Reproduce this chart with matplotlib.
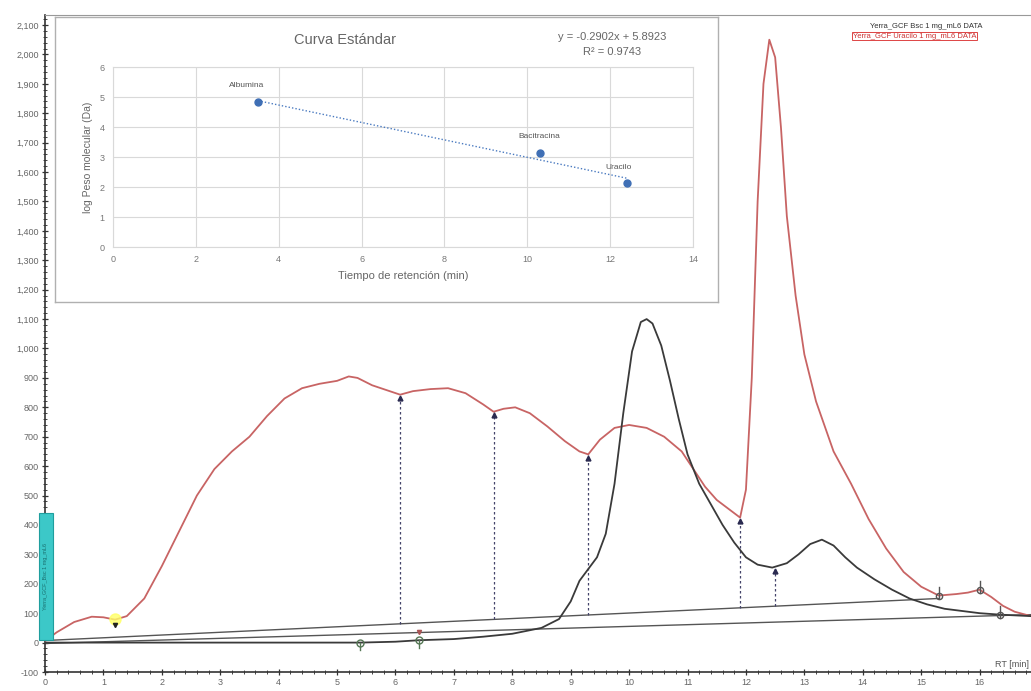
import matplotlib
matplotlib.use("Agg")
import matplotlib.pyplot as plt
import numpy as np
from matplotlib.patches import Rectangle
from matplotlib.ticker import MultipleLocator, FuncFormatter

plt.rcParams['font.family'] = ['Liberation Sans', 'DejaVu Sans']

# ---------------- data ----------------
red_x = [0.0, 0.2, 0.5, 0.8, 1.0, 1.2, 1.4, 1.7, 2.0, 2.3, 2.6, 2.9, 3.2, 3.5, 3.8,
         4.1, 4.4, 4.7, 5.0, 5.2, 5.35, 5.6, 5.9, 6.08, 6.3, 6.6, 6.9, 7.2, 7.5, 7.68,
         7.85, 8.05, 8.3, 8.6, 8.9, 9.15, 9.3, 9.5, 9.75, 10.0, 10.3, 10.6, 10.9, 11.1,
         11.3, 11.5, 11.7, 11.9, 12.0, 12.1, 12.2, 12.3, 12.4, 12.5, 12.6, 12.7, 12.85,
         13.0, 13.2, 13.5, 13.8, 14.1, 14.4, 14.7, 15.0, 15.3, 15.6, 15.8, 16.0, 16.2,
         16.4, 16.6, 16.88]
red_y = [5, 35, 70, 88, 86, 78, 90, 150, 260, 380, 500, 590, 650, 700, 770,
         830, 865, 880, 890, 905, 900, 875, 855, 843, 855, 862, 865, 848, 810, 785,
         795, 800, 780, 735, 685, 650, 640, 690, 730, 740, 730, 700, 650, 590,
         530, 485, 455, 425, 520, 900, 1500, 1900, 2050, 1990, 1750, 1450, 1180,
         980, 820, 650, 540, 420, 320, 240, 190, 160, 165, 170, 180, 155,
         125, 105, 90]

black_x = [0.0, 1.0, 2.0, 3.0, 4.0, 5.0, 5.4, 6.0, 6.4, 7.0, 7.5, 8.0, 8.5, 8.8, 9.0,
           9.15, 9.3, 9.45, 9.6, 9.75, 9.9, 10.05, 10.2, 10.3, 10.4, 10.55, 10.7, 10.85,
           11.0, 11.2, 11.4, 11.6, 11.8, 12.0, 12.2, 12.45, 12.7, 12.9, 13.1, 13.3, 13.5,
           13.7, 13.9, 14.2, 14.5, 14.8, 15.1, 15.4, 15.8, 16.0, 16.35, 16.88]
black_y = [0, 0, 0, 0, 0, 0, 0, 3, 8, 12, 20, 30, 50, 80, 140,
           210, 250, 290, 370, 540, 780, 990, 1090, 1100, 1085, 1010, 890, 760,
           640, 540, 470, 400, 340, 290, 265, 255, 270, 300, 335, 350, 330,
           290, 255, 215, 180, 150, 130, 115, 105, 100, 95, 90]

# baselines (start / end points)
base_upper_x = [0.0, 15.3]
base_upper_y = [7, 150]
base_lower_x = [0.0, 16.35]
base_lower_y = [-3, 92]

# dropline positions (RT) and their top values
drop_x = [6.08, 7.68, 9.3, 11.9, 12.5]
drop_top = [843, 785, 640, 425, 255]

# standard curve inset
std_names = ["Albumina", "Bacitracina", "Uracilo"]
std_rt = [3.5, 10.3, 12.4]
std_logmw = [4.84, 3.14, 2.12]
slope, intercept, r2 = -0.2902, 5.8923, 0.9743

x_ticks = list(range(0, 17))
y_ticks = list(range(-100, 2101, 100))

# ---------------- figure ----------------
W, H = 1031, 691
fig = plt.figure(figsize=(W / 100, H / 100), dpi=100)
ax = fig.add_axes([45 / W, 19 / H, (W - 45) / W, (672 - 15) / H])

ax.set_xlim(0, 16.88)
ax.set_ylim(-100, 2134)

ax.plot(base_upper_x, base_upper_y, color='#555555', lw=1.0, zorder=2)
ax.plot(base_lower_x + [16.88], base_lower_y + [95], color='#555555', lw=1.0, zorder=2)
ax.plot(red_x, red_y, color='#c86464', lw=1.3, zorder=3)
ax.plot(black_x, black_y, color='#3a3a3a', lw=1.3, zorder=4)

for xd, yt in zip(drop_x, drop_top):
    yb = np.interp(xd, base_upper_x, base_upper_y)
    ax.plot([xd, xd], [yb, yt], color='#44446a', lw=0.9, ls=(0, (2, 2)), zorder=2)
    ax.plot([xd], [yt - 12], marker='^', ms=3.5, color='#2a2a50', zorder=5)

# small peak markers
ax.plot([1.2], [80], 'o', ms=8, color='#ffff66', alpha=0.8, zorder=4)
ax.plot([1.2], [60], marker='v', ms=3, color='#222222', zorder=5)
for xm, ym in [(5.4, 0), (6.4, 8)]:
    ax.plot([xm], [ym], 'o', ms=5, mfc='none', mec='#557755', mew=1, zorder=5)
    ax.plot([xm, xm], [ym - 25, ym], color='#557755', lw=1, zorder=5)
ax.plot([6.4], [35], marker='v', ms=3, color='#aa5555', zorder=5)
for xm, ym in [(15.3, 160), (16.0, 180), (16.35, 95)]:
    ax.plot([xm], [ym], 'o', ms=4.5, mfc='none', mec='#555555', mew=1, zorder=5)
    ax.plot([xm, xm], [ym - 10, ym + 30], color='#555555', lw=1, zorder=5)

# cyan marker bar at left
ax.add_patch(Rectangle((-0.11, 10), 0.25, 432, facecolor='#3cc8c8', edgecolor='#1f9e9e',
                       lw=0.8, clip_on=False, zorder=6))
ax.text(0.015, 225, "Yerra_GCF_Bsc 1 mg_mL6", rotation=90, fontsize=4, color='#1a6f6f',
        ha='center', va='center', clip_on=False, zorder=7)

# axes styling
ax.set_xticks(x_ticks)
ax.set_yticks(y_ticks)
ax.yaxis.set_major_formatter(FuncFormatter(lambda v, p: f"{int(v):,}"))
ax.xaxis.set_minor_locator(MultipleLocator(0.2))
ax.yaxis.set_minor_locator(MultipleLocator(20))
ax.tick_params(axis='both', which='major', direction='inout', length=5, width=0.9,
               labelsize=6.5, labelcolor='#666666', color='#333333', pad=2)
ax.tick_params(axis='both', which='minor', direction='inout', length=3, width=0.7,
               color='#444444')
for s in ['left', 'bottom']:
    ax.spines[s].set_color('#333333')
    ax.spines[s].set_linewidth(1.2)
ax.spines['top'].set_color('#999999')
ax.spines['top'].set_linewidth(0.8)
ax.spines['right'].set_visible(False)

ax.text(16.27, -75, "RT [min]", fontsize=6.5, color='#555555', ha='left', va='center',
        clip_on=False)

fig.text(870 / W, 1 - 27 / H, "Yerra_GCF Bsc 1 mg_mL6 DATA", fontsize=5.5,
         color='#333333', ha='left', va='center')
fig.text(853 / W, 1 - 36 / H, "Yerra_GCF Uracilo 1 mg_mL6 DATA", fontsize=5.5,
         color='#cc3333', ha='left', va='center',
         bbox=dict(boxstyle='square,pad=0.1', fc='none', ec='#dd4444', lw=0.7))

# ---------------- inset box ----------------
box = fig.add_axes([55 / W, 1 - 302 / H, 663 / W, 285 / H], zorder=10)
box.set_xticks([])
box.set_yticks([])
for s in box.spines.values():
    s.set_color('#b0b0b0')
    s.set_linewidth(1.0)

ins = fig.add_axes([113 / W, 1 - 247 / H, 580 / W, 180 / H], zorder=11)
ins.set_xlim(0, 14)
ins.set_ylim(0, 6)
ins.set_xticks(range(0, 15, 2))
ins.set_yticks(range(0, 7))
ins.grid(True, color='#d9d9d9', lw=0.8)
ins.set_axisbelow(True)
for s in ins.spines.values():
    s.set_color('#d9d9d9')
    s.set_linewidth(0.8)
ins.tick_params(length=0, labelsize=6.5, labelcolor='#777777', pad=6)

tx = np.array([min(std_rt), max(std_rt)])
ins.plot(tx, slope * tx + intercept, color='#4a7ac0', lw=1.0, ls=(0, (1, 1.5)), zorder=3)
ins.plot(std_rt, std_logmw, 'o', ms=5, color='#3f6fb5', zorder=4)
offsets = [(-8, 9), (0, 9), (-6, 9)]
for n, xv, yv, off in zip(std_names, std_rt, std_logmw, offsets):
    ins.annotate(n, (xv, yv), xytext=off, textcoords='offset points', fontsize=6,
                 color='#555555', ha='center', va='bottom')

ins.set_xlabel("Tiempo de retención (min)", fontsize=8, color='#666666', labelpad=5)
ins.set_ylabel("log Peso molecular (Da)", fontsize=7.5, color='#666666', labelpad=5)

fig.text(345 / W, 1 - 40 / H, "Curva Estándar", fontsize=10.5, color='#666666',
         ha='center', va='center', zorder=12)
fig.text(612 / W, 1 - 37 / H, f"y = {slope:.4f}x + {intercept:.4f}", fontsize=8,
         color='#666666', ha='center', va='center', zorder=12)
fig.text(612 / W, 1 - 52 / H, f"R² = {r2:.4f}", fontsize=8, color='#666666',
         ha='center', va='center', zorder=12)

fig.savefig("out.png", dpi=100)
